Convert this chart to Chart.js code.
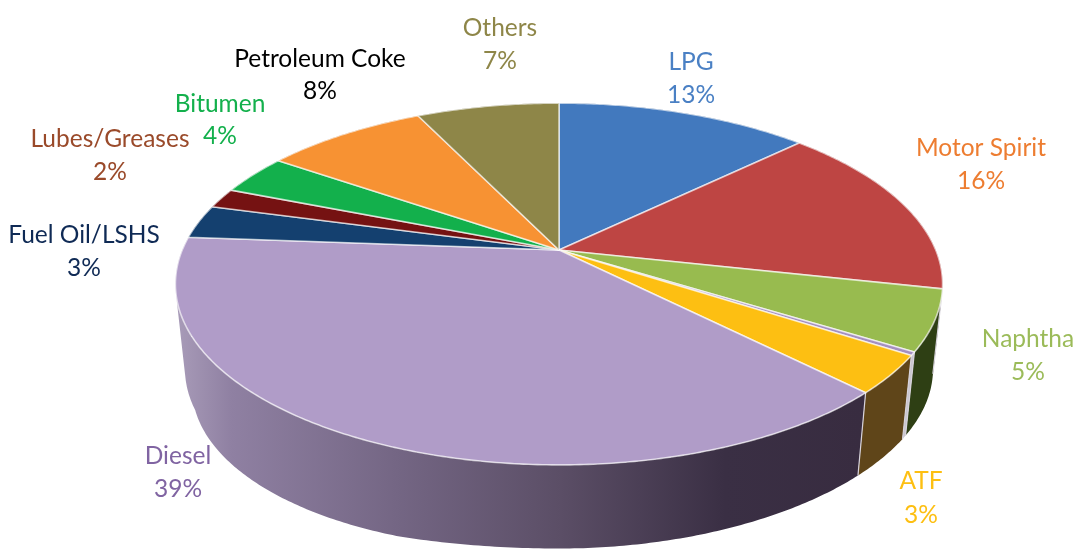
<!DOCTYPE html>
<html>
<head>
<meta charset="utf-8">
<title>Petroleum products</title>
<script src="https://cdn.jsdelivr.net/npm/chart.js@4/dist/chart.umd.min.js"></script>
<style>
  html, body { margin: 0; padding: 0; background: #fff; }
  canvas { display: block; }
</style>
</head>
<body>
<canvas id="pieChart" width="1078" height="550"></canvas>
<script>
// slice names, clockwise from 12 o'clock (the sliver has no label in the picture)
var categories = ['LPG', 'Motor Spirit', 'Naphtha', '', 'ATF', 'Diesel', 'Fuel Oil/LSHS', 'Lubes/Greases', 'Bitumen', 'Petroleum Coke', 'Others'];
// shares
var shares = [12.8, 15.6, 5.4, 0.3, 3.4, 38.6, 3.0, 1.8, 3.6, 8.2, 7.2];
// percentages as printed on the labels
var printed = ['13%', '16%', '5%', '', '3%', '39%', '3%', '2%', '4%', '8%', '7%'];

var topColors = ['#4279be', '#be4543', '#98bb4f', '#a48fc0', '#fdbf12', '#b09cc8', '#14406f', '#751212', '#13b04c', '#f79233', '#8e8648'];
var wallColors = ['#24426a', '#6b2322', '#2e3f14', '#c9c5cf', '#5f4519', '#382c40', '#0b2340', '#3f0909', '#0a5f29', '#8a501b', '#4e4a27'];
var textColors = ['#4a80c4', '#ed7d31', '#9bbb59', '', '#fdbf12', '#8064a2', '#0f2a55', '#9a4a2a', '#13b04c', '#000000', '#8e8648'];
// label centres, name line then value line
var labelSpots = [[691, 62, 95], [981, 148, 181], [1028, 339, 372], null, [921, 481, 515], [178, 456, 489], [84, 235, 268], [110, 139, 172], [220, 104, 136], [320, 59, 91], [500, 28, 61]];

// tilted disc: near side of the rim sits further from the centre than the far side
var SQUASH_X = 1.507, SQUASH_Y = 0.698, TILT = 0.188;
// lower rim of the wall
var BOTTOM_SCALE = 0.975, BOTTOM_DROP = 86;
// the lower rim sags towards the bottom left in the picture
var LEAN = 0.22, LEAN_FROM_Y = 410, SAG = 3;

function project(arc, angle, lower) {
    var u = Math.cos(angle), v = Math.sin(angle);
    var w = 1 - TILT * v;
    var px = SQUASH_X * arc.outerRadius * u / w;
    var py = SQUASH_Y * arc.outerRadius * v / w;
    if (lower) {
        var y = arc.y + BOTTOM_DROP + py * BOTTOM_SCALE + SAG * Math.pow(Math.max(0, v), 6);
        var side = Math.min(1, Math.max(0, -u / 0.3));
        var lean = side * LEAN * Math.max(0, y - LEAN_FROM_Y);
        return { x: arc.x + px * BOTTOM_SCALE - lean, y: y };
    }
    return { x: arc.x + px, y: arc.y + py };
}

function rimPoints(arc, lower) {
    var pts = [];
    var steps = Math.max(2, Math.ceil((arc.endAngle - arc.startAngle) / 0.01));
    for (var i = 0; i <= steps; i++) {
        pts.push(project(arc, arc.startAngle + (arc.endAngle - arc.startAngle) * i / steps, lower));
    }
    return pts;
}

function wallFill(ctx, index) {
    if (categories[index] !== 'Diesel') return wallColors[index];
    var g = ctx.createLinearGradient(177, 0, 862, 0);
    g.addColorStop(0, '#a89bb8');
    g.addColorStop(0.08, '#8f80a2');
    g.addColorStop(0.32, '#746684');
    g.addColorStop(0.56, '#5b4e66');
    g.addColorStop(0.8, '#3a2f44');
    g.addColorStop(1, '#382c40');
    return g;
}

// adds a quad to the current path, always wound the same way so the union has no gaps
function addQuad(ctx, q) {
    var area = 0;
    for (var i = 0; i < 4; i++) {
        var a = q[i], b = q[(i + 1) % 4];
        area += a.x * b.y - b.x * a.y;
    }
    if (area < 0) q.reverse();
    ctx.moveTo(q[0].x, q[0].y);
    ctx.lineTo(q[1].x, q[1].y);
    ctx.lineTo(q[2].x, q[2].y);
    ctx.lineTo(q[3].x, q[3].y);
    ctx.closePath();
}

var tiltedPie = {
    id: 'tiltedPie',
    beforeDatasetsDraw: function(chart) {
        var ctx = chart.ctx;
        var arcs = chart.getDatasetMeta(0).data;
        ctx.save();
        ctx.lineJoin = 'round';

        // side wall
        arcs.forEach(function(arc, i) {
            var upper = rimPoints(arc, false);
            var lower = rimPoints(arc, true);
            ctx.beginPath();
            for (var n = 0; n < upper.length - 1; n++) {
                addQuad(ctx, [upper[n], upper[n + 1], lower[n + 1], lower[n]]);
            }
            ctx.fillStyle = wallFill(ctx, i);
            ctx.fill();
        });

        // seams on the wall
        ctx.strokeStyle = '#d8d4dc';
        ctx.lineWidth = 1.2;
        arcs.forEach(function(arc) {
            var a = project(arc, arc.startAngle, false);
            var b = project(arc, arc.startAngle, true);
            if (Math.sin(arc.startAngle) > 0.1) {
                ctx.beginPath();
                ctx.moveTo(a.x, a.y);
                ctx.lineTo(b.x, b.y);
                ctx.stroke();
            }
        });

        // top face
        arcs.forEach(function(arc, i) {
            ctx.beginPath();
            ctx.moveTo(arc.x, arc.y);
            rimPoints(arc, false).forEach(function(p) { ctx.lineTo(p.x, p.y); });
            ctx.closePath();
            ctx.fillStyle = topColors[i];
            ctx.fill();
            ctx.strokeStyle = 'rgba(255,255,255,0.65)';
            ctx.lineWidth = 1.6;
            ctx.stroke();
        });
        ctx.restore();
        return false;
    },
    afterDraw: function(chart) {
        var ctx = chart.ctx;
        ctx.save();
        ctx.font = '24.5px Lato';
        ctx.textAlign = 'center';
        ctx.textBaseline = 'middle';
        categories.forEach(function(name, i) {
            if (!labelSpots[i]) return;
            ctx.fillStyle = textColors[i];
            ctx.fillText(name, labelSpots[i][0], labelSpots[i][1]);
            ctx.fillText(printed[i], labelSpots[i][0], labelSpots[i][2]);
        });
        ctx.restore();
    }
};

new Chart(document.getElementById('pieChart').getContext('2d'), {
    type: 'pie',
    data: {
        labels: categories,
        datasets: [{
            data: shares,
            backgroundColor: topColors,
            borderWidth: 0
        }]
    },
    options: {
        responsive: false,
        animation: false,
        layout: { padding: { left: 40, top: 0, right: 0, bottom: 50 } },
        plugins: {
            legend: { display: false },
            tooltip: { enabled: false }
        }
    },
    plugins: [tiltedPie]
});
</script>
</body>
</html>
